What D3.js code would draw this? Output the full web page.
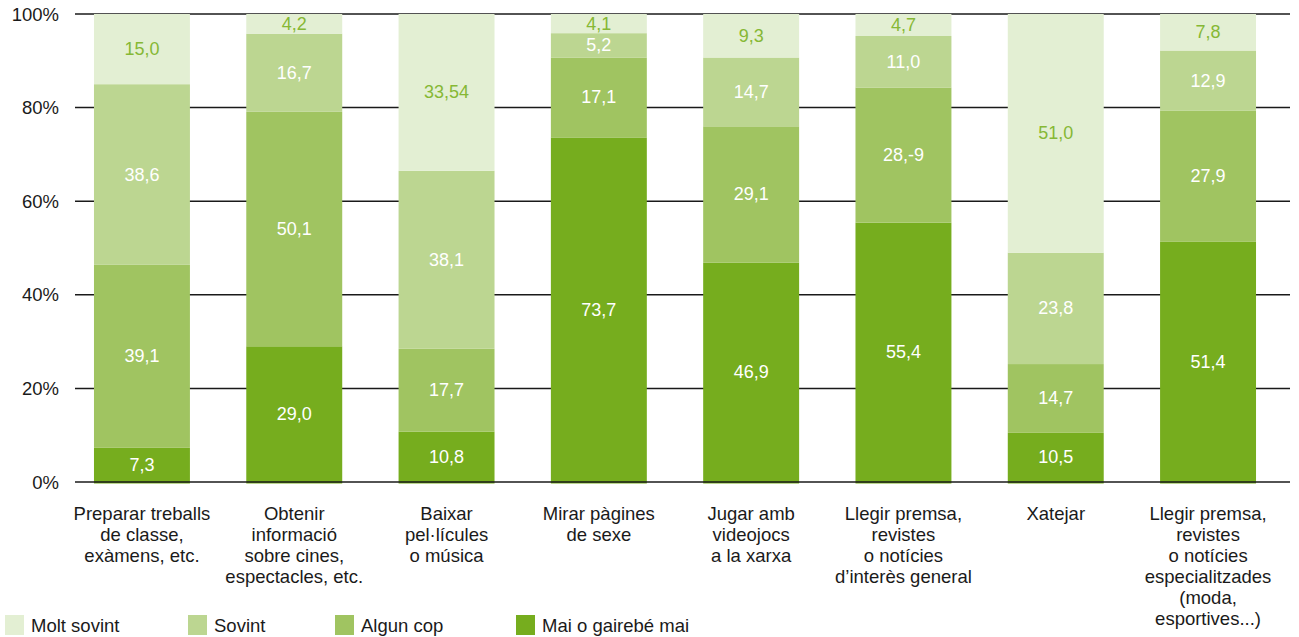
<!DOCTYPE html>
<html>
<head>
<meta charset="utf-8">
<script src="https://cdn.jsdelivr.net/npm/d3@7"></script>
<style>
  html, body { margin: 0; padding: 0; background: #fff; }
  svg { display: block; font-family: "Liberation Sans", Arial, sans-serif; }
</style>
</head>
<body>
<svg id="chart" width="1299" height="637"></svg>
<script>
const categories = [
  ["Preparar treballs", "de classe,", "exàmens, etc."],
  ["Obtenir", "informació", "sobre cines,", "espectacles, etc."],
  ["Baixar", "pel·lícules", "o música"],
  ["Mirar pàgines", "de sexe"],
  ["Jugar amb", "videojocs", "a la xarxa"],
  ["Llegir premsa,", "revistes", "o notícies", "d’interès general"],
  ["Xatejar"],
  ["Llegir premsa,", "revistes", "o notícies", "especialitzades", "(moda,", "esportives...)"]
];
const seriesNames = ["Mai o gairebé mai", "Algun cop", "Sovint", "Molt sovint"];
const maiValues    = [7.3, 29.0, 10.8, 73.7, 46.9, 55.4, 10.5, 51.4];
const algunValues  = [39.1, 50.1, 17.7, 17.1, 29.1, 28.9, 14.7, 27.9];
const sovintValues = [38.6, 16.7, 38.1, 5.2, 14.7, 11.0, 23.8, 12.9];
const moltValues   = [15.0, 4.2, 33.54, 4.1, 9.3, 4.7, 51.0, 7.8];
const maiLabels    = ["7,3", "29,0", "10,8", "73,7", "46,9", "55,4", "10,5", "51,4"];
const algunLabels  = ["39,1", "50,1", "17,7", "17,1", "29,1", "28,-9", "14,7", "27,9"];
const sovintLabels = ["38,6", "16,7", "38,1", "5,2", "14,7", "11,0", "23,8", "12,9"];
const moltLabels   = ["15,0", "4,2", "33,54", "4,1", "9,3", "4,7", "51,0", "7,8"];
const yTicks = [0, 20, 40, 60, 80, 100];
const legendOrder = ["Molt sovint", "Sovint", "Algun cop", "Mai o gairebé mai"];

const colors = {
  "Mai o gairebé mai": "#76ad1e",
  "Algun cop": "#a0c461",
  "Sovint": "#bcd691",
  "Molt sovint": "#e3efd3"
};
const labelColors = {
  "Mai o gairebé mai": "#ffffff",
  "Algun cop": "#ffffff",
  "Sovint": "#ffffff",
  "Molt sovint": "#86b835"
};

const valuesBySeries = {
  "Mai o gairebé mai": maiValues, "Algun cop": algunValues,
  "Sovint": sovintValues, "Molt sovint": moltValues
};
const labelsBySeries = {
  "Mai o gairebé mai": maiLabels, "Algun cop": algunLabels,
  "Sovint": sovintLabels, "Molt sovint": moltLabels
};

const rows = categories.map((c, i) => {
  const r = { idx: i };
  seriesNames.forEach(s => r[s] = valuesBySeries[s][i]);
  return r;
});

const svg = d3.select("#chart");
const x = d3.scaleBand().domain(d3.range(categories.length))
  .range([65.8, 1284.2]).paddingInner(0.37).paddingOuter(0.185);
const y = d3.scaleLinear().domain([0, 1]).range([482, 14]);

const gridX0 = 75, gridX1 = 1290;

// gridlines (behind bars)
svg.append("g").selectAll("line").data(yTicks.filter(t => t > 0)).join("line")
  .attr("x1", gridX0).attr("x2", gridX1)
  .attr("y1", d => y(d / 100)).attr("y2", d => y(d / 100))
  .attr("stroke", "#1a1a1a").attr("stroke-width", 1.5);

// tick labels
svg.append("g").selectAll("text").data(yTicks).join("text")
  .attr("x", 59).attr("y", d => y(d / 100))
  .attr("text-anchor", "end").attr("dominant-baseline", "central")
  .attr("font-size", 18.5).attr("fill", "#1a1a1a")
  .text(d => d + "%");

const stack = d3.stack().keys(seriesNames).offset(d3.stackOffsetExpand);
const stacked = stack(rows);

const layers = svg.append("g").selectAll("g").data(stacked).join("g")
  .attr("fill", d => colors[d.key]);
layers.selectAll("rect").data(d => d).join("rect")
  .attr("x", d => x(d.data.idx))
  .attr("width", x.bandwidth())
  .attr("y", d => y(d[1]))
  .attr("height", d => y(d[0]) - y(d[1]) + (d[0] === 0 ? 1.5 : 0));

// value labels
const lbl = svg.append("g").selectAll("g").data(stacked).join("g");
lbl.selectAll("text").data(d => d.map(p => ({ p, key: d.key }))).join("text")
  .attr("x", d => x(d.p.data.idx) + x.bandwidth() / 2)
  .attr("y", d => (y(d.p[0]) + y(d.p[1])) / 2)
  .attr("text-anchor", "middle").attr("dominant-baseline", "central")
  .attr("font-size", 18).attr("fill", d => labelColors[d.key])
  .text(d => labelsBySeries[d.key][d.p.data.idx]);

// baseline over bars
svg.append("line")
  .attr("x1", gridX0).attr("x2", gridX1)
  .attr("y1", y(0)).attr("y2", y(0))
  .attr("stroke", "#1a1a1a").attr("stroke-width", 1.5);

// category labels
const cat = svg.append("g").selectAll("text").data(categories).join("text")
  .attr("x", (d, i) => x(i) + x.bandwidth() / 2)
  .attr("y", 520)
  .attr("text-anchor", "middle").attr("font-size", 18.5).attr("fill", "#1a1a1a");
cat.selectAll("tspan").data(d => d).join("tspan")
  .attr("x", function() { return this.parentNode.getAttribute("x"); })
  .attr("dy", (d, i) => i === 0 ? 0 : 21)
  .text(d => d);

// legend
const legendX = [5, 188, 335, 516];
const lg = svg.append("g").selectAll("g").data(legendOrder).join("g")
  .attr("transform", (d, i) => `translate(${legendX[i]},0)`);
lg.append("rect").attr("x", 0).attr("y", 615).attr("width", 19).attr("height", 20)
  .attr("fill", d => colors[d]);
lg.append("text").attr("x", 26).attr("y", 632)
  .attr("font-size", 18.5).attr("fill", "#1a1a1a").text(d => d);
</script>
</body>
</html>
